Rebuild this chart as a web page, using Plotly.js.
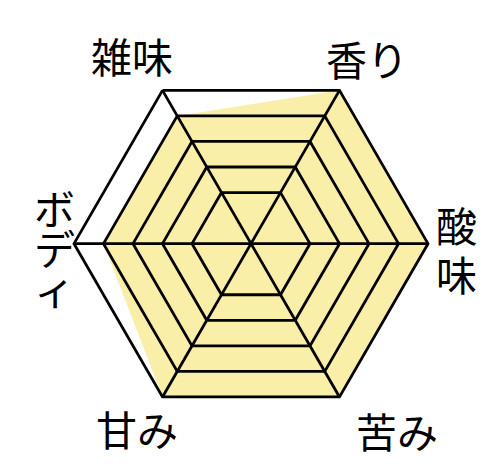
<!DOCTYPE html>
<html>
<head>
<meta charset="utf-8">
<script src="https://cdn.plot.ly/plotly-3.0.1.min.js"></script>
<style>
  html, body { margin: 0; padding: 0; background: #fff; }
  #chart { width: 500px; height: 469px; }
</style>
</head>
<body>
<div id="chart"></div>
<script>
// taste profile (0-6 scale)
var categories = ['香り', '酸味', '苦み', '甘み', 'ボディ', '雑味'];
var scores = [6, 6, 6, 6, 5, 5];
var gridLevels = [2, 3, 4, 5, 6];

var W = 500, H = 469;

var fillTrace = {
    type: 'scatterpolar',
    subplot: 'polar',
    r: scores,
    theta: categories,
    fill: 'toself',
    fillcolor: '#FAEFA8',
    mode: 'lines',
    line: {width: 0, color: '#FAEFA8'},
    hoverinfo: 'skip',
    showlegend: false
};

// invisible trace so the grid overlay subplot gets drawn on top of the fill
var gridTrace = {
    type: 'scatterpolar',
    subplot: 'polar2',
    r: scores,
    theta: categories,
    mode: 'lines',
    line: {width: 0},
    opacity: 0,
    hoverinfo: 'skip',
    showlegend: false
};

var dom = {x: [0.148, 0.856], y: [0.103, 0.858]};

function angular(showGrid) {
    return {
        type: 'category',
        categoryorder: 'array',
        categoryarray: categories,
        direction: 'clockwise',
        rotation: 60,
        showticklabels: false,
        ticks: '',
        showgrid: showGrid,
        gridcolor: '#000',
        gridwidth: 2.8,
        showline: showGrid,
        linecolor: '#000',
        linewidth: 2.8
    };
}

function radial(showGrid) {
    return {
        range: [0, 6],
        tickmode: 'array',
        tickvals: gridLevels,
        showticklabels: false,
        ticks: '',
        showline: false,
        showgrid: showGrid,
        gridcolor: '#000',
        gridwidth: 2.8
    };
}

// category labels; horizontal ones as a single line, vertical ones stacked char by char
var labelFont = {family: 'Noto Sans CJK JP', size: 41, color: '#000'};
var labelPos = {
    '香り':  {x: 367, y: 58},
    '酸味':  {x: 456, y: 224, step: 49},
    '苦み':  {x: 397, y: 430},
    '甘み':  {x: 137, y: 428},
    'ボディ': {x: 54,  y: 207, step: 40},
    '雑味':  {x: 132, y: 55}
};

var annotations = [];
categories.forEach(function(c) {
    var p = labelPos[c];
    var parts = p.step ? c.split('') : [c];
    parts.forEach(function(t, i) {
        annotations.push({
            text: t,
            xref: 'paper', yref: 'paper',
            x: p.x / W,
            y: 1 - (p.y + i * (p.step || 0)) / H,
            xanchor: 'center', yanchor: 'middle',
            showarrow: false,
            font: labelFont
        });
    });
});

var layout = {
    width: W,
    height: H,
    margin: {l: 0, r: 0, t: 0, b: 0},
    paper_bgcolor: '#fff',
    showlegend: false,
    annotations: annotations,
    polar: {
        domain: dom,
        gridshape: 'linear',
        bgcolor: '#fff',
        angularaxis: angular(false),
        radialaxis: radial(false)
    },
    polar2: {
        domain: dom,
        gridshape: 'linear',
        bgcolor: 'rgba(0,0,0,0)',
        angularaxis: angular(true),
        radialaxis: radial(true)
    }
};

Plotly.newPlot('chart', [fillTrace, gridTrace], layout, {displayModeBar: false, staticPlot: true});
</script>
</body>
</html>
